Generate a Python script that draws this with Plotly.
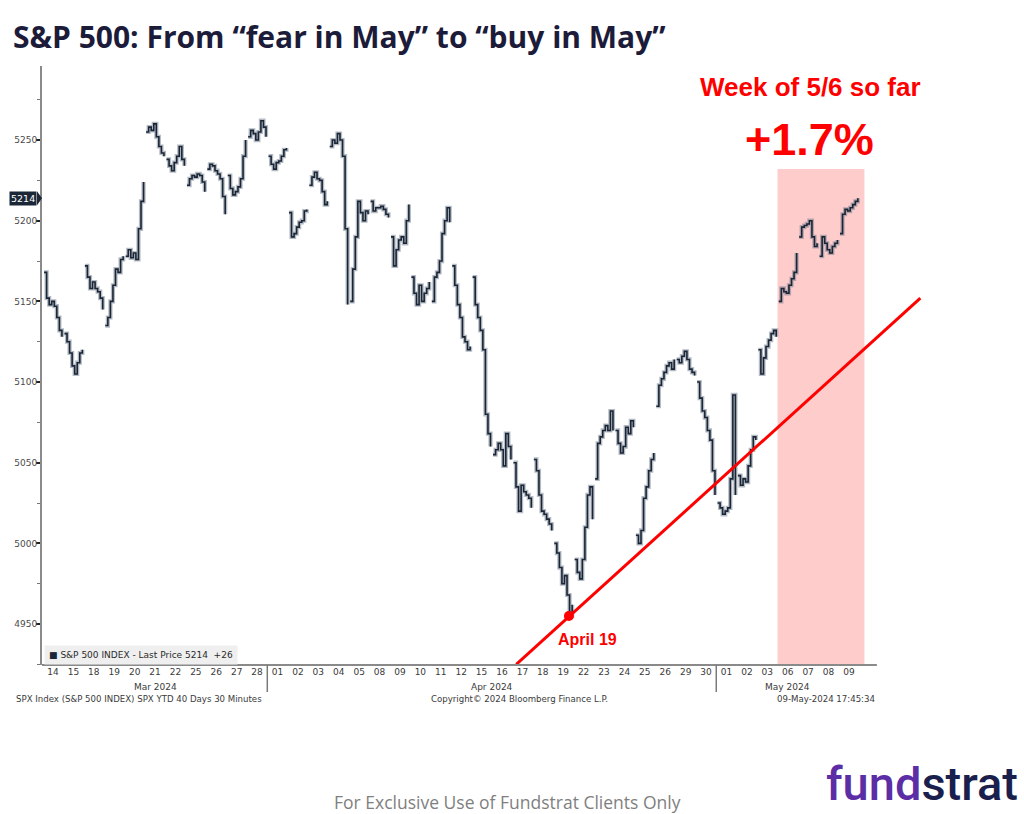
import plotly.graph_objects as go

# ---------------- data ----------------
day_labels_mar = ["14", "15", "18", "19", "20", "21", "22", "25", "26", "27", "28"]
day_labels_apr = ["01", "02", "03", "04", "05", "08", "09", "10", "11", "12", "15",
                  "16", "17", "18", "19", "22", "23", "24", "25", "26", "29", "30"]
day_labels_may = ["01", "02", "03", "06", "07", "08", "09"]
month_labels = ["Mar 2024", "Apr 2024", "May 2024"]

# intraday S&P 500 levels, ~8 readings per trading day
mar_days = [
    [5168, 5152, 5148, 5150, 5147, 5140, 5132, 5128],
    [5130, 5125, 5118, 5110, 5105, 5112, 5118, 5120],
    [5172, 5165, 5158, 5162, 5158, 5156, 5152, 5145],
    [5135, 5140, 5150, 5160, 5170, 5168, 5176, 5178],
    [5178, 5182, 5177, 5180, 5176, 5195, 5212, 5224],
    [5255, 5258, 5256, 5260, 5252, 5246, 5242, 5240],
    [5238, 5234, 5231, 5236, 5240, 5246, 5238, 5234],
    [5222, 5226, 5228, 5227, 5229, 5228, 5224, 5218],
    [5232, 5235, 5234, 5231, 5229, 5226, 5215, 5204],
    [5228, 5220, 5216, 5218, 5221, 5226, 5240, 5250],
    [5252, 5256, 5254, 5250, 5255, 5262, 5258, 5252],
]
apr_days = [
    [5240, 5235, 5232, 5236, 5237, 5240, 5244, 5245],
    [5205, 5190, 5192, 5196, 5199, 5200, 5206, 5207],
    [5222, 5227, 5230, 5226, 5225, 5218, 5210, 5212],
    [5246, 5250, 5248, 5254, 5250, 5240, 5195, 5148],
    [5150, 5170, 5190, 5212, 5205, 5200, 5206, 5204],
    [5212, 5206, 5208, 5208, 5209, 5207, 5204, 5202],
    [5190, 5172, 5182, 5188, 5190, 5186, 5200, 5210],
    [5165, 5155, 5148, 5160, 5150, 5155, 5158, 5162],
    [5150, 5165, 5168, 5175, 5192, 5200, 5208, 5199],
    [5172, 5160, 5148, 5140, 5128, 5125, 5120, 5122],
    [5165, 5148, 5140, 5132, 5120, 5080, 5068, 5060],
    [5055, 5058, 5062, 5058, 5048, 5068, 5060, 5052],
    [5050, 5035, 5020, 5036, 5032, 5030, 5028, 5022],
    [5052, 5045, 5030, 5020, 5018, 5015, 5012, 5008],
    [5000, 4994, 4985, 4975, 4980, 4968, 4955, 4962],
    [4990, 4982, 4978, 4990, 5010, 5030, 5035, 5015],
    [5040, 5062, 5066, 5070, 5073, 5070, 5082, 5070],
    [5070, 5062, 5056, 5060, 5072, 5068, 5076, 5072],
    [5005, 5000, 5008, 5028, 5035, 5045, 5052, 5056],
    [5085, 5098, 5102, 5106, 5110, 5112, 5108, 5114],
    [5114, 5112, 5116, 5119, 5114, 5108, 5106, 5104],
    [5100, 5090, 5082, 5078, 5070, 5064, 5045, 5030],
]
may_days = [
    [5025, 5022, 5018, 5020, 5022, 5040, 5092, 5030],
    [5042, 5036, 5040, 5038, 5048, 5058, 5066, 5064],
    [5120, 5105, 5115, 5122, 5126, 5130, 5132, 5128],
    [5150, 5158, 5156, 5155, 5160, 5164, 5168, 5180],
    [5190, 5196, 5197, 5198, 5200, 5190, 5184, 5186],
    [5178, 5190, 5186, 5182, 5180, 5184, 5186, 5188],
    [5192, 5204, 5207, 5206, 5208, 5210, 5212, 5214],
]

last_price = 5214
change = "+26"
low_day_index = 25          # April 19
low_value = 4955
trend_x = [23.2, 43.0]      # support trend line (day-index units)
trend_y = [4925, 5152]
week_start_label = "06"     # week of 5/6
week_gain = "+1.7%"

# ---------------- build series ----------------
all_days = mar_days + apr_days + may_days
all_labels = day_labels_mar + day_labels_apr + day_labels_may
xs, ys = [], []
for i, vals in enumerate(all_days):
    n = len(vals)
    for k, v in enumerate(vals):
        xs.append(i + (k + 0.5) / n)
        ys.append(v)
    xs.append(None)
    ys.append(None)

n_mar, n_apr, n_may = len(mar_days), len(apr_days), len(may_days)
month_bounds = [(0, n_mar), (n_mar, n_mar + n_apr), (n_mar + n_apr, n_mar + n_apr + n_may)]
week_start = n_mar + n_apr + day_labels_may.index(week_start_label)

# ---------------- layout geometry ----------------
W, H = 1024, 814
ML, MR, MT, MB = 42, 91, 66, 149
PW, PH = W - ML - MR, H - MT - MB
X_RANGE = [-0.039, 43.62]
Y_RANGE = [4924.6, 5295.9]


def px_x(px):
    return (px - ML) / PW


def px_y(py):
    return (H - MB - py) / PH


fig = go.Figure()

# soft grey halo imitating the high-low bars, then the dark price line
fig.add_trace(go.Scatter(
    x=xs, y=ys, mode="lines", line=dict(color="rgba(105,120,138,0.5)", width=4.2, shape="hv"),
    connectgaps=False, hoverinfo="skip", showlegend=False))
fig.add_trace(go.Scatter(
    x=xs, y=ys, mode="lines", line=dict(color="#1a2535", width=1.6, shape="hv"),
    connectgaps=False, hoverinfo="skip", showlegend=False))

fig.add_trace(go.Scatter(
    x=trend_x, y=trend_y, mode="lines", line=dict(color="#ff0000", width=3),
    hoverinfo="skip", showlegend=False))

fig.add_trace(go.Scatter(
    x=[low_day_index + 0.78], y=[low_value], mode="markers",
    marker=dict(color="#ff0000", size=10), hoverinfo="skip", showlegend=False))

shapes = []
# pink highlight of the current week
shapes.append(dict(type="rect", xref="x", yref="y", x0=week_start, x1=week_start + 4.26,
                   y0=Y_RANGE[0], y1=5232, fillcolor="#ffcccc", line=dict(width=0), layer="below"))
# bottom axis line
shapes.append(dict(type="line", xref="x", yref="paper", x0=X_RANGE[0], x1=40.87, y0=0, y1=0,
                   line=dict(color="#8a8a8a", width=2)))
# month separators
for (a, b) in month_bounds[1:]:
    shapes.append(dict(type="line", xref="x", yref="paper", x0=a, x1=a, y0=0, y1=px_y(692),
                       line=dict(color="#7a7a7a", width=1.5)))
# price tag arrow
shapes.append(dict(type="path", xref="paper", yref="y", xsizemode="pixel", ysizemode="pixel",
                   xanchor=px_x(37), yanchor=last_price,
                   path="M 0,7 L 5,0 L 0,-7 Z", fillcolor="#1b2636", line=dict(width=0)))

annotations = []
tick_font = dict(family="DejaVu Sans", size=9, color="#3a3a3a")
for (a, b), m in zip(month_bounds, month_labels):
    annotations.append(dict(xref="x", yref="paper", x=(a + b) / 2, y=px_y(687), text=m,
                            showarrow=False, font=tick_font, xanchor="center", yanchor="middle"))

small_font = dict(family="DejaVu Sans", size=8.6, color="#3a3a3a")
annotations += [
    dict(xref="paper", yref="paper", x=px_x(14), y=px_y(699), xanchor="left", yanchor="middle",
         text="SPX Index (S&P 500 INDEX) SPX YTD 40 Days 30 Minutes", showarrow=False, font=small_font),
    dict(xref="paper", yref="paper", x=px_x(519), y=px_y(699), xanchor="center", yanchor="middle",
         text="Copyright\u00a9 2024 Bloomberg Finance L.P.", showarrow=False, font=small_font),
    dict(xref="paper", yref="paper", x=px_x(877), y=px_y(699), xanchor="right", yanchor="middle",
         text="09-May-2024 17:45:34", showarrow=False, font=small_font),
    # legend box
    dict(xref="paper", yref="paper", x=px_x(44), y=px_y(655), xanchor="left", yanchor="middle",
         text="<span style='color:#1b2636'>\u25a0</span> S&P 500 INDEX - Last Price %d  %s" % (last_price, change),
         showarrow=False, bgcolor="#efefef", borderpad=4,
         font=dict(family="DejaVu Sans", size=9, color="#2a2a2a")),
    # price tag
    dict(xref="paper", yref="y", x=px_x(37), y=last_price, xanchor="right", yanchor="middle",
         text="%d" % last_price, showarrow=False, bgcolor="#1b2636", borderpad=1,
         font=dict(family="DejaVu Sans", size=9.5, color="#ffffff")),
    # red callouts
    dict(xref="paper", yref="paper", x=px_x(810), y=px_y(87), xanchor="center", yanchor="middle",
         text="<b>Week of 5/6 so far</b>", showarrow=False,
         font=dict(family="Liberation Sans", size=26, color="#ff0000")),
    dict(xref="paper", yref="paper", x=px_x(809), y=px_y(140), xanchor="center", yanchor="middle",
         text="<b>%s</b>" % week_gain, showarrow=False,
         font=dict(family="Liberation Sans", size=45, color="#ff0000")),
    dict(xref="paper", yref="paper", x=px_x(587), y=px_y(639), xanchor="center", yanchor="middle",
         text="<b>April 19</b>", showarrow=False,
         font=dict(family="Liberation Sans", size=16, color="#ff0000")),
    # title
    dict(xref="paper", yref="paper", x=px_x(11), y=px_y(37), xanchor="left", yanchor="middle",
         text="<b>S&P 500: From \u201cfear in May\u201d to \u201cbuy in May\u201d</b>", showarrow=False,
         font=dict(family="Open Sans", size=30, color="#1c1c3a")),
    # footer
    dict(xref="paper", yref="paper", x=px_x(508), y=px_y(802), xanchor="center", yanchor="middle",
         text="For Exclusive Use of Fundstrat Clients Only", showarrow=False,
         font=dict(family="Open Sans", size=17.5, color="#7f7f7f")),
    dict(xref="paper", yref="paper", x=px_x(1020), y=px_y(813), xanchor="right", yanchor="bottom",
         text="<span style='color:#5b2ea6'>fund</span><span style='color:#1b1f4d'>strat</span>",
         showarrow=False, font=dict(family="Roboto", size=47, color="#1b1f4d", weight=500)),
]

fig.update_layout(
    width=W, height=H,
    margin=dict(l=ML, r=MR, t=MT, b=MB, pad=0),
    paper_bgcolor="white", plot_bgcolor="white",
    shapes=shapes, annotations=annotations,
    xaxis=dict(range=X_RANGE, showgrid=False, zeroline=False, showline=False,
               tickmode="array", tickvals=[i + 0.5 for i in range(len(all_labels))],
               ticktext=all_labels, ticks="", tickfont=tick_font, fixedrange=True),
    yaxis=dict(range=Y_RANGE, showgrid=False, zeroline=False, showline=True,
               linecolor="#8a8a8a", linewidth=2, tick0=4950, dtick=50,
               ticks="outside", ticklen=4, tickwidth=2, tickcolor="#222222",
               ticklabelstandoff=-3,
               tickfont=dict(family="DejaVu Sans", size=9, color="#4a4a4a"),
               minor=dict(dtick=25, tick0=4925, ticks="outside", ticklen=3,
                          tickcolor="#777777", tickwidth=1),
               fixedrange=True),
    showlegend=False,
)

fig.write_html("out.html", post_script="document.body.style.margin='0';",
               config={"displayModeBar": False})
